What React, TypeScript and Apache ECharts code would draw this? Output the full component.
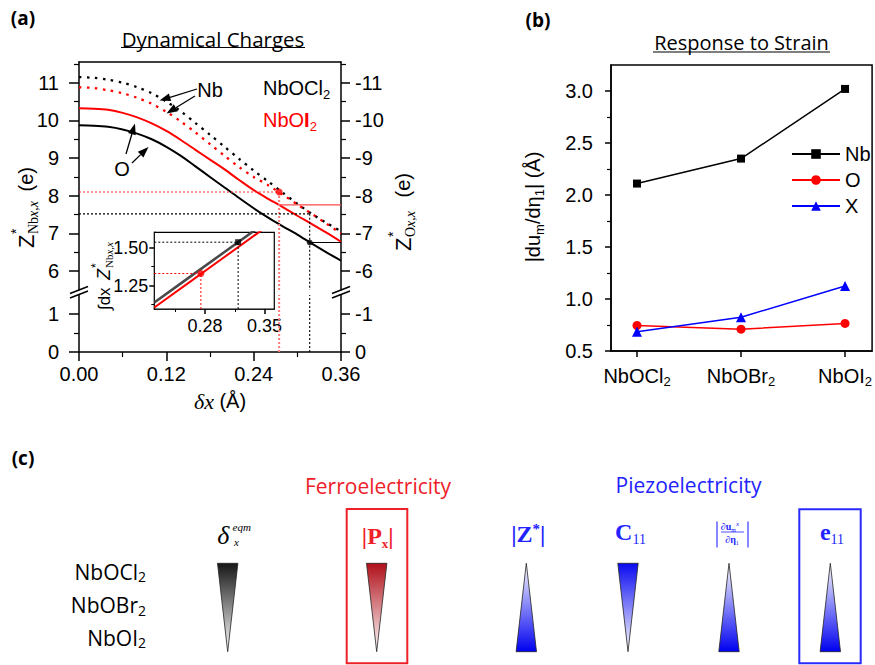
import React, { useEffect, useRef } from 'react';
import * as echarts from 'echarts';

// ---------------- Panel (a): dynamical charges vs δx (Å)
const deltaX = [0, 0.02, 0.04, 0.06, 0.08, 0.1, 0.12, 0.14, 0.16, 0.18, 0.2, 0.22, 0.24, 0.26, 0.28, 0.3, 0.32, 0.34, 0.36];
const zNbNbOCl2 = [11.15, 11.13, 11.08, 11.0, 10.88, 10.72, 10.5, 10.24, 9.93, 9.62, 9.3, 8.98, 8.67, 8.38, 8.08, 7.79, 7.52, 7.28, 7.06];
const zNbNbOI2 = [10.88, 10.86, 10.8, 10.72, 10.6, 10.44, 10.23, 9.97, 9.68, 9.37, 9.06, 8.76, 8.5, 8.28, 8.03, 7.77, 7.52, 7.26, 7.0];
const zONbOCl2 = [-9.87, -9.86, -9.83, -9.76, -9.65, -9.5, -9.3, -9.06, -8.78, -8.5, -8.22, -7.94, -7.67, -7.42, -7.19, -6.97, -6.73, -6.5, -6.28];
const zONbOI2 = [-10.32, -10.31, -10.28, -10.2, -10.08, -9.92, -9.72, -9.48, -9.22, -8.96, -8.7, -8.42, -8.15, -7.92, -7.7, -7.47, -7.25, -7.02, -6.78];
// equilibrium read-outs (δx, Z*Nb, Z*O)
const markNbOI2 = { x: 0.275, nb: 8.1, o: -7.76 };
const markNbOCl2 = { x: 0.317, nb: 7.52, o: -6.76 };
// axis ticks
const aXTicks = [0, 0.12, 0.24, 0.36];
const aXMinor = [0.06, 0.18, 0.3];
const aYUpper = [6, 7, 8, 9, 10, 11];
const aYUpperMinor = [6.5, 7.5, 8.5, 9.5, 10.5, 11.5];
const aYLower = [0, 1];
const aYLowerMinor = [0.5];
const aYUpperRange = [5.5, 11.55];
const aYLowerRange = [0, 1.5];

// inset: ∫dx Z*
const insetX = [0.22, 0.26, 0.3, 0.34, 0.37];
const insetNbOCl2 = [1.14, 1.3, 1.46, 1.62, 1.74];
const insetNbOI2 = [1.107, 1.267, 1.427, 1.587, 1.707];
const insetMarkNbOCl2 = { x: 0.319, y: 1.536 };
const insetMarkNbOI2 = { x: 0.275, y: 1.33 };
const insetXTicks = [0.28, 0.35];
const insetXMinor = [0.245, 0.315];
const insetYTicks = [1.25, 1.5];
const insetYMinor = [1.125, 1.375];

// ---------------- Panel (b): response to strain
const compounds = ['NbOCl2', 'NbOBr2', 'NbOI2'];
const strainNb = [2.11, 2.35, 3.02];
const strainO = [0.745, 0.71, 0.765];
const strainX = [0.685, 0.825, 1.125];
const bYTicks = [0.5, 1.0, 1.5, 2.0, 2.5, 3.0];
const bYMinor = [0.75, 1.25, 1.75, 2.25, 2.75];

const FONT = '"Liberation Sans", Arial, sans-serif';
const SERIF = '"Liberation Serif", "Times New Roman", serif';
const HUM = '"Open Sans", sans-serif';
const BLK = '#000';
const RED = '#ff0000';
const BLUE = '#0000ff';

function axis(gridIndex: number, min: number, max: number, position: string, o: any = {}) {
  return {
    gridIndex, type: 'value', min, max, position, inverse: !!o.inverse,
    splitLine: { show: false },
    axisLine: { show: !!o.line, onZero: false, lineStyle: { color: BLK, width: 1.5 } },
    axisTick: o.ticks
      ? { show: true, customValues: o.ticks, length: o.tickLen ?? 8, inside: false, lineStyle: { color: BLK, width: o.tickW ?? 1.5 } }
      : { show: false },
    axisLabel: o.labels
      ? { show: true, customValues: o.labels, formatter: o.fmt, margin: o.margin ?? 10, fontFamily: FONT, fontSize: o.labelSize ?? 20, color: BLK, rich: o.rich }
      : { show: false },
  };
}

function lineS(data: number[][], xi: number, yi: number, color: string, width: number, type: any = 'solid', extra: any = {}) {
  return {
    type: 'line', xAxisIndex: xi, yAxisIndex: yi, data, symbol: 'none', showSymbol: false, silent: true,
    lineStyle: { color, width, type }, itemStyle: { color }, z: 3, ...extra,
  };
}
function dot(x: number, y: number, xi: number, yi: number, color: string, size: number, symbol = 'circle') {
  return { type: 'scatter', xAxisIndex: xi, yAxisIndex: yi, data: [[x, y]], symbol, symbolSize: size, itemStyle: { color }, silent: true, z: 5 };
}
const zip = (xs: number[], ys: number[]) => xs.map((x, i) => [x, ys[i]]);

function T(x: number, y: number, text: string, st: any = {}) {
  return {
    type: 'text', x, y, silent: true,
    style: {
      text, fill: st.fill ?? BLK, fontFamily: st.fontFamily ?? FONT, fontSize: st.fontSize ?? 20,
      fontWeight: st.fontWeight ?? 'normal', fontStyle: st.fontStyle ?? 'normal',
      align: st.align ?? 'center', verticalAlign: st.verticalAlign ?? 'middle',
      textAlign: st.align ?? 'center', textVerticalAlign: st.verticalAlign ?? 'middle',
      rich: st.rich,
    },
  };
}
function L(x1: number, y1: number, x2: number, y2: number, stroke = BLK, lineWidth = 1.2, lineDash: any = null) {
  return { type: 'line', silent: true, shape: { x1, y1, x2, y2 }, style: { stroke, lineWidth, lineDash } };
}
function arrow(x1: number, y1: number, x2: number, y2: number, head = 11, w = 8) {
  const a = Math.atan2(y2 - y1, x2 - x1);
  const bx = x2 - head * Math.cos(a), by = y2 - head * Math.sin(a);
  const px = -Math.sin(a) * w / 2, py = Math.cos(a) * w / 2;
  return [
    L(x1, y1, bx, by, BLK, 1.3),
    { type: 'polygon', silent: true, shape: { points: [[x2, y2], [bx + px, by + py], [bx - px, by - py]] }, style: { fill: BLK } },
  ];
}
function grad(c0: string, c1: string) {
  return new echarts.graphic.LinearGradient(0, 0, 0, 1, [{ offset: 0, color: c0 }, { offset: 1, color: c1 }]);
}
function tri(cx: number, down: boolean, c0: string, c1: string) {
  const top = 563.3, bot = 651.7, hw = 10.2;
  const points = down
    ? [[cx - hw, top], [cx + hw, top], [cx, bot]]
    : [[cx, top], [cx + hw, bot], [cx - hw, bot]];
  return { type: 'polygon', silent: true, shape: { points }, style: { fill: grad(c0, c1), stroke: '#222', lineWidth: 0.8 } };
}

const sub = (fill: string, size = 13, family = FONT, extra: any = {}) => ({ fontSize: size, fontFamily: family, fill, padding: [12, 0, 0, 0], ...extra });

function buildOption() {
  const grids = [
    { left: 79, top: 62, width: 262, height: 228 },
    { left: 79, top: 295, width: 262, height: 57 },
    { left: 154.3, top: 232.3, width: 120, height: 76.7, show: true, backgroundColor: '#fff', borderColor: BLK, borderWidth: 1.2, z: 4 },
    { left: 611, top: 65, width: 262, height: 286, show: true, backgroundColor: 'transparent', borderColor: BLK, borderWidth: 1.5 },
  ];
  const fmt2 = (v: number) => v.toFixed(2);
  const fmt1 = (v: number) => v.toFixed(1);
  const fmtS = (v: number) => String(Math.round(v));
  const catRich = {
    n: { fontFamily: FONT, fontSize: 20, color: BLK },
    s: { fontFamily: FONT, fontSize: 13, color: BLK, padding: [12, 0, 0, 0] },
  };
  const xAxis = [
    axis(0, 0, 0.36, 'top', { line: true }),
    axis(1, 0, 0.36, 'bottom', { line: true, ticks: aXTicks, tickLen: 9, labels: aXTicks, fmt: fmt2, margin: 12 }),
    axis(1, 0, 0.36, 'bottom', { ticks: aXMinor, tickLen: 5, tickW: 1.2 }),
    axis(2, 0.22, 0.3617, 'bottom', { line: true, ticks: insetXTicks, tickLen: 5, labels: insetXTicks, fmt: fmt2, margin: 8, labelSize: 18 }),
    axis(2, 0.22, 0.3617, 'bottom', { ticks: insetXMinor, tickLen: 3, tickW: 1 }),
    axis(3, -0.25, 2.26, 'bottom', {
      line: true, ticks: [0, 1, 2], tickLen: 6, labels: [0, 1, 2], margin: 12, rich: catRich,
      fmt: (v: number) => { const c = compounds[Math.round(v)]; return `{n|${c.slice(0, -1)}}{s|${c.slice(-1)}}`; },
    }),
  ];
  const yAxis = [
    axis(0, aYUpperRange[0], aYUpperRange[1], 'left', { line: true, ticks: aYUpper, tickLen: 10, labels: aYUpper, fmt: fmtS, margin: 20 }),
    axis(0, aYUpperRange[0], aYUpperRange[1], 'left', { ticks: aYUpperMinor, tickLen: 5, tickW: 1.2 }),
    axis(0, -aYUpperRange[1], -aYUpperRange[0], 'right', { inverse: true, line: true, ticks: aYUpper.map((v) => -v), tickLen: 9, labels: aYUpper.map((v) => -v), fmt: fmtS, margin: 14 }),
    axis(0, -aYUpperRange[1], -aYUpperRange[0], 'right', { inverse: true, ticks: aYUpperMinor.map((v) => -v), tickLen: 5, tickW: 1.2 }),
    axis(1, aYLowerRange[0], aYLowerRange[1], 'left', { line: true, ticks: aYLower, tickLen: 10, labels: aYLower, fmt: fmtS, margin: 20 }),
    axis(1, aYLowerRange[0], aYLowerRange[1], 'left', { ticks: aYLowerMinor, tickLen: 5, tickW: 1.2 }),
    axis(1, -aYLowerRange[1], -aYLowerRange[0], 'right', { inverse: true, line: true, ticks: aYLower.map((v) => -v), tickLen: 9, labels: aYLower.map((v) => -v), fmt: fmtS, margin: 14 }),
    axis(1, -aYLowerRange[1], -aYLowerRange[0], 'right', { inverse: true, ticks: aYLowerMinor.map((v) => -v), tickLen: 5, tickW: 1.2 }),
    axis(2, 1.097, 1.601, 'left', { line: true, ticks: insetYTicks, tickLen: 5, labels: insetYTicks, fmt: fmt2, margin: 6, labelSize: 18 }),
    axis(2, 1.097, 1.601, 'left', { ticks: insetYMinor, tickLen: 3, tickW: 1 }),
    axis(3, 0.5, 3.25, 'left', { line: true, ticks: bYTicks, tickLen: 6, labels: bYTicks, fmt: fmt1, margin: 18 }),
    axis(3, 0.5, 3.25, 'left', { ticks: bYMinor, tickLen: 4, tickW: 1.2 }),
  ];

  const dash = [2.5, 5.5];
  const fine = [2, 2];
  const yBot = aYUpperRange[0];
  const series: any[] = [
    // panel (a) main curves
    lineS(zip(deltaX, zNbNbOCl2), 0, 0, BLK, 2.3, dash, { smooth: 0.3 }),
    lineS(zip(deltaX, zNbNbOI2), 0, 0, RED, 2.3, dash, { smooth: 0.3 }),
    lineS(zip(deltaX, zONbOCl2), 0, 2, BLK, 2, 'solid', { smooth: 0.3 }),
    lineS(zip(deltaX, zONbOI2), 0, 2, RED, 2, 'solid', { smooth: 0.3 }),
    // read-out guides NbOI2
    lineS([[0, markNbOI2.nb], [markNbOI2.x, markNbOI2.nb]], 0, 0, '#ff3030', 1.1, fine),
    lineS([[markNbOI2.x, markNbOI2.nb], [markNbOI2.x, yBot]], 0, 0, '#ff7a7a', 2, fine),
    lineS([[markNbOI2.x, markNbOI2.o], [0.36, markNbOI2.o]], 0, 2, '#ff4a4a', 1.2),
    lineS([[markNbOI2.x, aYLowerRange[0]], [markNbOI2.x, aYLowerRange[1]]], 1, 4, '#ff7a7a', 2, fine),
    // read-out guides NbOCl2
    lineS([[0, markNbOCl2.nb], [markNbOCl2.x, markNbOCl2.nb]], 0, 0, BLK, 1.1, fine),
    lineS([[markNbOCl2.x, markNbOCl2.nb], [markNbOCl2.x, yBot]], 0, 0, BLK, 1.1, fine),
    lineS([[markNbOCl2.x, markNbOCl2.o], [0.36, markNbOCl2.o]], 0, 2, BLK, 1.2),
    lineS([[markNbOCl2.x, aYLowerRange[0]], [markNbOCl2.x, aYLowerRange[1]]], 1, 4, BLK, 1.1, fine),
    dot(markNbOI2.x, markNbOI2.nb, 0, 0, RED, 7),
    dot(markNbOCl2.x, markNbOCl2.o, 0, 2, BLK, 6),
    // inset
    lineS(zip(insetX, insetNbOCl2), 3, 8, '#4a4a4a', 2.6, 'solid', { z: 6 }),
    lineS(zip(insetX, insetNbOI2), 3, 8, RED, 2, 'solid', { z: 6 }),
    lineS([[0.22, insetMarkNbOCl2.y], [insetMarkNbOCl2.x, insetMarkNbOCl2.y]], 3, 8, BLK, 1, fine, { z: 6 }),
    lineS([[insetMarkNbOCl2.x, 1.097], [insetMarkNbOCl2.x, insetMarkNbOCl2.y]], 3, 8, BLK, 1, fine, { z: 6 }),
    lineS([[0.22, insetMarkNbOI2.y], [insetMarkNbOI2.x, insetMarkNbOI2.y]], 3, 8, RED, 1, fine, { z: 6 }),
    lineS([[insetMarkNbOI2.x, 1.097], [insetMarkNbOI2.x, insetMarkNbOI2.y]], 3, 8, RED, 1, fine, { z: 6 }),
    { ...dot(insetMarkNbOCl2.x, insetMarkNbOCl2.y, 3, 8, BLK, 6, 'rect'), z: 7 },
    { ...dot(insetMarkNbOI2.x, insetMarkNbOI2.y, 3, 8, RED, 7), z: 7 },
    // panel (b)
    { name: 'Nb', type: 'line', xAxisIndex: 5, yAxisIndex: 10, data: zip([0, 1, 2], strainNb), symbol: 'rect', symbolSize: 8, lineStyle: { color: BLK, width: 1.5 }, itemStyle: { color: BLK } },
    { name: 'O', type: 'line', xAxisIndex: 5, yAxisIndex: 10, data: zip([0, 1, 2], strainO), symbol: 'circle', symbolSize: 9, lineStyle: { color: RED, width: 1.5 }, itemStyle: { color: RED } },
    { name: 'X', type: 'line', xAxisIndex: 5, yAxisIndex: 10, data: zip([0, 1, 2], strainX), symbol: 'triangle', symbolSize: 10, lineStyle: { color: BLUE, width: 1.5 }, itemStyle: { color: BLUE } },
  ];

  const blueTxt = '#2323ff';
  const redTxt = '#ee2028';
  const g: any[] = [];
  // panel labels & titles
  g.push(T(23, 18, '(a)', { fontFamily: HUM, fontWeight: 'bold', fontSize: 19 }));
  g.push(T(538, 20, '(b)', { fontFamily: HUM, fontWeight: 'bold', fontSize: 19 }));
  g.push(T(23, 458, '(c)', { fontFamily: HUM, fontWeight: 'bold', fontSize: 19 }));
  g.push(T(213, 39, 'Dynamical Charges', { fontFamily: HUM, fontSize: 20.5 }));
  g.push(L(121, 47.5, 305, 47.5, BLK, 1.2));
  g.push(T(741.5, 42, 'Response to Strain', { fontFamily: HUM, fontSize: 20 }));
  g.push(L(653, 52, 830, 52, BLK, 1.2));
  // panel (a) annotations
  g.push(T(210, 90, 'Nb'));
  g.push(T(122, 169, 'O'));
  g.push(...arrow(197, 89, 159.5, 100.5));
  g.push(...arrow(195, 96, 166.5, 113.5));
  g.push(...arrow(126, 154, 135, 123.5));
  g.push(...arrow(132, 163, 148.5, 147));
  g.push(T(263, 88, 'NbOCl{s|2}', { align: 'left', rich: { s: sub(BLK) } }));
  g.push(T(263, 120, 'NbO{b|I}{s|2}', { align: 'left', fill: RED, rich: { b: { fontSize: 20, fontFamily: FONT, fontWeight: 'bold', fill: RED }, s: sub(RED) } }));
  // axis break marks
  for (const cx of [79, 341]) {
    g.push(L(cx - 9, 293.5, cx + 9, 286.5, BLK, 1.5));
    g.push(L(cx - 9, 298, cx + 9, 291, BLK, 1.5));
  }
  // axis titles panel (a)
  g.push({
    type: 'group', x: 26, y: 207, rotation: Math.PI / 2, silent: true,
    children: [
      T(-41, 0, 'Z', { align: 'left', fontSize: 22 }),
      T(-27, -10, '*', { align: 'left', fontSize: 14 }),
      T(-27, 7, 'Nb{i|x,x}', { align: 'left', fontSize: 14, fontFamily: SERIF, rich: { i: { fontSize: 14, fontFamily: SERIF, fontStyle: 'italic', fill: BLK } } }),
      T(40, 0, '(e)', { align: 'right', fontSize: 20 }),
    ],
  });
  g.push({
    type: 'group', x: 403, y: 212, rotation: Math.PI / 2, silent: true,
    children: [
      T(-39, 0, 'Z', { align: 'left', fontSize: 22 }),
      T(-25, -10, '*', { align: 'left', fontSize: 14 }),
      T(-25, 7, 'O{i|x,x}', { align: 'left', fontSize: 14, fontFamily: SERIF, rich: { i: { fontSize: 14, fontFamily: SERIF, fontStyle: 'italic', fill: BLK } } }),
      T(39, 0, '(e)', { align: 'right', fontSize: 20 }),
    ],
  });
  g.push({
    type: 'group', x: 104, y: 270, rotation: Math.PI / 2, silent: true,
    children: [
      T(-40, 0, '∫dx', { align: 'left', fontSize: 17 }),
      T(-10, 0, 'Z', { align: 'left', fontSize: 18, fontStyle: 'italic' }),
      T(2, -8, '*', { align: 'left', fontSize: 12 }),
      T(2, 5, 'Nb{i|x,x}', { align: 'left', fontSize: 11, fontFamily: SERIF, rich: { i: { fontSize: 11, fontFamily: SERIF, fontStyle: 'italic', fill: BLK } } }),
    ],
  });
  g.push(T(220, 401, '{i|δx} (Å)', { fontSize: 20, rich: { i: { fontFamily: SERIF, fontStyle: 'italic', fontSize: 22, fill: BLK } } }));
  // axis title panel (b)
  g.push({
    type: 'group', x: 533, y: 207, rotation: Math.PI / 2, silent: true,
    children: [
      T(0, 0, '|du{s|m}/dη{s|1}| (Å)', { fontSize: 20, rich: { s: sub(BLK, 13) } }),
    ],
  });

  // panel (c)
  g.push(T(378, 486, 'Ferroelectricity', { fontFamily: HUM, fontSize: 21, fill: redTxt }));
  g.push(T(688.5, 485, 'Piezoelectricity', { fontFamily: HUM, fontSize: 21, fill: blueTxt }));
  const rowRich = { s: sub(BLK, 14, HUM, { padding: [10, 0, 0, 0] }) };
  g.push(T(146, 571.5, 'NbOCl{s|2}', { align: 'right', fontFamily: HUM, fontSize: 21, rich: rowRich }));
  g.push(T(146, 605, 'NbOBr{s|2}', { align: 'right', fontFamily: HUM, fontSize: 21, rich: rowRich }));
  g.push(T(146, 637.5, 'NbOI{s|2}', { align: 'right', fontFamily: HUM, fontSize: 21, rich: rowRich }));
  // column headers
  g.push(T(223.3, 535, 'δ', { fontFamily: SERIF, fontStyle: 'italic', fontSize: 26 }));
  g.push(T(232.5, 527, 'eqm', { align: 'left', fontFamily: SERIF, fontStyle: 'italic', fontSize: 11 }));
  g.push(T(234, 541.5, 'x', { align: 'left', fontFamily: SERIF, fontStyle: 'italic', fontSize: 11 }));
  const bRed = { fontFamily: SERIF, fontWeight: 'bold', fontSize: 24, fill: redTxt };
  g.push(T(377.7, 536, '|P{s|x}|', { ...bRed, rich: { s: { fontFamily: SERIF, fontWeight: 'bold', fontSize: 13, fill: redTxt, padding: [14, 0, 0, 0] } } }));
  const bBlue = { fontFamily: SERIF, fontWeight: 'bold', fontSize: 24, fill: blueTxt };
  g.push(T(528.3, 534, '|Z{p|*}|', { ...bBlue, rich: { p: { fontFamily: SERIF, fontWeight: 'bold', fontSize: 15, fill: blueTxt, padding: [0, 0, 10, 0] } } }));
  g.push(T(630.5, 532, 'C{s|11}', { ...bBlue, rich: { s: { fontFamily: SERIF, fontSize: 14, fill: blueTxt, padding: [14, 0, 0, 0] } } }));
  g.push(T(832, 532, 'e{s|11}', { ...bBlue, rich: { s: { fontFamily: SERIF, fontSize: 14, fill: blueTxt, padding: [14, 0, 0, 0] } } }));
  // |∂u_m^x / ∂η_1|
  g.push(L(717, 521.5, 717, 547.5, blueTxt, 1.1));
  g.push(L(748, 521.5, 748, 547.5, blueTxt, 1.1));
  g.push(L(721, 532, 744, 532, blueTxt, 0.8));
  g.push(T(730, 526.5, '∂u{s|m}{p|x}', { fontFamily: SERIF, fontWeight: 'bold', fontSize: 10, fill: blueTxt, rich: { s: { fontFamily: SERIF, fontSize: 6, fill: blueTxt, padding: [6, 0, 0, 0] }, p: { fontFamily: SERIF, fontStyle: 'italic', fontSize: 7, fill: blueTxt, padding: [0, 0, 6, 0] } } }));
  g.push(T(732, 539.5, '∂η{s|1}', { fontFamily: SERIF, fontWeight: 'bold', fontSize: 10, fill: blueTxt, rich: { s: { fontFamily: SERIF, fontSize: 6, fill: blueTxt, padding: [6, 0, 0, 0] } } }));
  // triangles
  g.push(tri(227.7, true, '#161616', '#ffffff'));
  g.push(tri(376.7, true, '#b0101a', '#ffffff'));
  g.push(tri(526.3, false, '#ffffff', '#0000f0'));
  g.push(tri(628, true, '#0a0af0', '#ffffff'));
  g.push(tri(729, false, '#ffffff', '#0000f0'));
  g.push(tri(830.3, false, '#ffffff', '#0000f0'));
  // boxes
  g.push({ type: 'rect', silent: true, shape: { x: 346.7, y: 509, width: 60.6, height: 154.3 }, style: { fill: 'none', stroke: redTxt, lineWidth: 2 } });
  g.push({ type: 'rect', silent: true, shape: { x: 799.3, y: 509.3, width: 61.4, height: 154 }, style: { fill: 'none', stroke: '#2a2aff', lineWidth: 2 } });

  return {
    animation: false,
    backgroundColor: '#fff',
    grid: grids,
    xAxis,
    yAxis,
    legend: {
      data: ['Nb', 'O', 'X'], orient: 'vertical', left: 786, top: 139, itemWidth: 48, itemHeight: 12, itemGap: 6,
      selectedMode: false, textStyle: { fontFamily: FONT, fontSize: 20, color: BLK },
    },
    series,
    graphic: { elements: g },
  };
}

export default function App() {
  const ref = useRef<HTMLDivElement>(null);
  useEffect(() => {
    const chart = echarts.init(ref.current as HTMLDivElement, null, { renderer: 'svg' });
    chart.setOption(buildOption() as any);
    return () => chart.dispose();
  }, []);
  return <div ref={ref} style={{ position: 'fixed', left: 0, top: 0, width: 875, height: 665, background: '#fff' }} />;
}
